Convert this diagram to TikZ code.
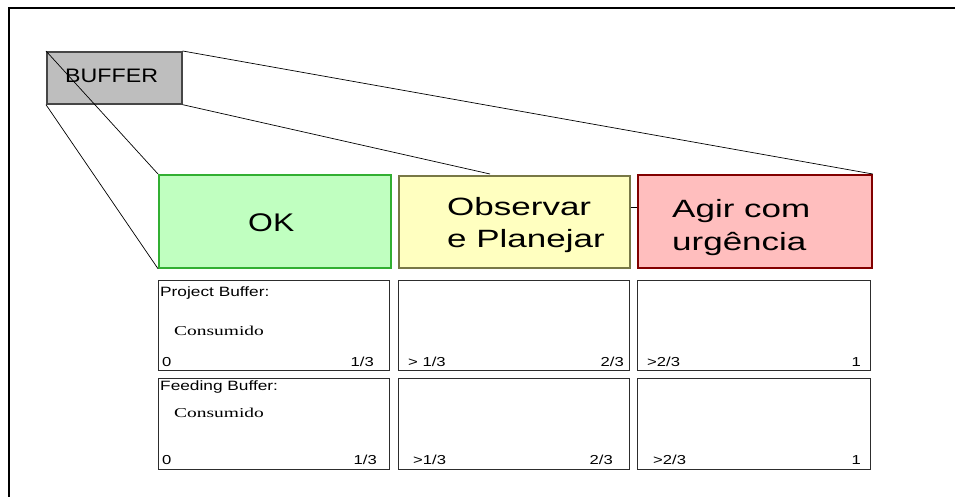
\documentclass[tikz,border=0pt]{standalone}
\usepackage{fontspec}
\setmainfont{Liberation Sans}
\newfontfamily\serifff{Liberation Serif}
\usetikzlibrary{calc}
\definecolor{okfill}{RGB}{192,255,192}
\definecolor{okdraw}{RGB}{50,175,50}
\definecolor{obsfill}{RGB}{255,255,192}
\definecolor{obsdraw}{RGB}{120,120,70}
\definecolor{agfill}{RGB}{255,190,190}
\definecolor{agdraw}{RGB}{130,0,0}
\definecolor{buffill}{RGB}{190,190,190}
\definecolor{bufdraw}{RGB}{70,70,70}
\definecolor{celldraw}{RGB}{45,45,45}
\newcommand{\tx}[3]{\scalebox{#1}[1]{\fontsize{#2}{#2}\selectfont #3}}
\tikzset{
  box/.style={rectangle, anchor=north west, inner sep=0pt, line width=1.7pt},
  cell/.style={box, draw=celldraw, line width=1.3pt, fill=white},
  lbl/.style={anchor=base west, inner sep=0pt},
  lblr/.style={anchor=base east, inner sep=0pt},
  conn/.style={draw=black, line width=0.7pt},
}
\begin{document}
\begin{tikzpicture}[x=1pt,y=-1pt]
\useasboundingbox (0,0) rectangle (955,497);
% frame
\coordinate (f0) at (9,497);
\coordinate (f1) at (9,8);
\coordinate (f2) at (955,8);
\draw[line width=1.2pt] (f0) -- (f1) -- (f2);

% top boxes
\node[box, fill=buffill, draw=bufdraw, minimum width=135pt, minimum height=52pt] (buf) at (46,51) {};
\node[box, fill=okfill, draw=okdraw, minimum width=232pt, minimum height=93pt] (ok) at (158,174) {};
\node[box, fill=obsfill, draw=obsdraw, minimum width=231pt, minimum height=92pt] (obs) at (398,175) {};
\node[box, fill=agfill, draw=agdraw, minimum width=234pt, minimum height=93pt] (agir) at (637,174) {};

% cells
\node[cell, minimum width=231pt, minimum height=90pt] (c11) at (158,280) {};
\node[cell, minimum width=231pt, minimum height=90pt] (c12) at (398,280) {};
\node[cell, minimum width=233pt, minimum height=90pt] (c13) at (637,280) {};
\node[cell, minimum width=231pt, minimum height=91pt] (c21) at (158,378) {};
\node[cell, minimum width=231pt, minimum height=91pt] (c22) at (398,378) {};
\node[cell, minimum width=233pt, minimum height=91pt] (c23) at (637,378) {};

% texts top
\node[lbl] (tbuf) at (65,83) {\tx{1.19}{19.5}{BUFFER}};
\node[lbl] (tok) at (248,231) {\tx{1.25}{25.5}{OK}};
\node[lbl] (tobs1) at (447,215) {\tx{1.40}{25}{Observar}};
\node[lbl] (tobs2) at (447,247) {\tx{1.40}{25}{e Planejar}};
\node[lbl] (tag1) at (672,218) {\tx{1.40}{25}{Agir com}};
\node[lbl] (tag2) at (672,250) {\tx{1.40}{25}{urgência}};

% texts cells
\node[lbl] (tpb) at (160,296) {\tx{1.28}{13.5}{Project Buffer:}};
\node[lbl] (tc1) at (174,335) {\serifff\tx{1.43}{13.6}{Consumido}};
\node[lbl] (tfb) at (160,390) {\tx{1.28}{13.5}{Feeding Buffer:}};
\node[lbl] (tc2) at (174,417) {\serifff\tx{1.43}{13.6}{Consumido}};

\node[lbl] (n110) at (162,366) {\tx{1.28}{13}{0}};
\node[lblr] (n111) at (374,366) {\tx{1.28}{13}{1/3}};
\node[lbl] (n120) at (408,366) {\tx{1.28}{13}{> 1/3}};
\node[lblr] (n121) at (624,366) {\tx{1.28}{13}{2/3}};
\node[lbl] (n130) at (647,366) {\tx{1.28}{13}{>2/3}};
\node[lblr] (n131) at (861,366) {\tx{1.28}{13}{1}};

\node[lbl] (n210) at (162,464) {\tx{1.28}{13}{0}};
\node[lblr] (n211) at (377,464) {\tx{1.28}{13}{1/3}};
\node[lbl] (n220) at (413,464) {\tx{1.28}{13}{>1/3}};
\node[lblr] (n221) at (613,464) {\tx{1.28}{13}{2/3}};
\node[lbl] (n230) at (653,464) {\tx{1.28}{13}{>2/3}};
\node[lblr] (n231) at (861,464) {\tx{1.28}{13}{1}};

% connectors
\coordinate (obstop) at ($(obs.north west)+(92,-1)$);
\coordinate (obsmid) at (obs.east |- 0,207);
\coordinate (agmid) at (agir.west |- 0,207);
\draw[conn] (buf.north west) -- (ok.north west);
\draw[conn] (buf.south west) -- (ok.south west);
\draw[conn] (buf.north east) -- (agir.north east);
\draw[conn] (buf.south east) -- (obstop);
\draw[conn] (obsmid) -- (agmid);
\end{tikzpicture}
\end{document}
